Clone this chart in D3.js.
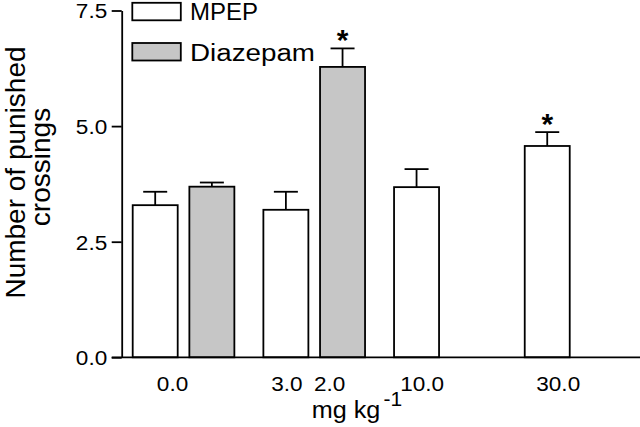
<!DOCTYPE html>
<html>
<head>
<meta charset="utf-8">
<script src="https://cdn.jsdelivr.net/npm/d3@7"></script>
<style>
  html, body { margin: 0; padding: 0; background: #fff; }
  svg { display: block; }
  text { font-family: "Liberation Sans", Arial, Helvetica, sans-serif; fill: #000; }
</style>
</head>
<body>
<svg id="chart" width="640" height="427"></svg>
<script>
// ---- data ----
const groups = ["g1", "g2", "g3", "g4"];
const series = ["MPEP", "Diazepam"];
const barGroup = ["g1", "g1", "g2", "g2", "g3", "g4"];
const barSeries = ["MPEP", "Diazepam", "MPEP", "Diazepam", "MPEP", "MPEP"];
const barMean = [3.29, 3.69, 3.19, 6.28, 3.68, 4.57];
const barSem = [0.29, 0.09, 0.39, 0.40, 0.39, 0.30];
const barSig = [false, false, false, true, false, true];
const xTickLabels = ["0.0", "3.0", "2.0", "10.0", "30.0"];
const yTicks = [0, 2.5, 5.0, 7.5];
const legendLabels = ["MPEP", "Diazepam"];

// ---- layout ----
const svg = d3.select("#chart");
const SX = 1.1; // horizontal glyph stretch seen in reference
const colors = { MPEP: "#ffffff", Diazepam: "#c6c6c6" };

const y = d3.scaleLinear().domain([0, 7.5]).range([357.3, 10.5]);
const x0 = d3.scaleBand().domain(groups).range([132.7, 626.4]).paddingInner(0.222).paddingOuter(0);
const x1 = d3.scaleBand().domain(series).range([0, x0.bandwidth()]).paddingInner(0.206).paddingOuter(0);

const bars = barMean.map((v, i) => ({ g: barGroup[i], s: barSeries[i], v, e: barSem[i], sig: barSig[i] }));
const bx = d => x0(d.g) + x1(d.s);
const bc = d => bx(d) + x1.bandwidth() / 2;

// bars
svg.append("g").selectAll("rect").data(bars).join("rect")
  .attr("x", bx)
  .attr("y", d => y(d.v))
  .attr("width", x1.bandwidth())
  .attr("height", d => y(0) - y(d.v))
  .attr("fill", d => colors[d.s])
  .attr("stroke", "#000").attr("stroke-width", 1.8);

// error bars
const eb = svg.append("g").attr("stroke", "#000").attr("stroke-width", 1.8);
eb.selectAll("line.v").data(bars).join("line").attr("class", "v")
  .attr("x1", bc).attr("x2", bc)
  .attr("y1", d => y(d.v)).attr("y2", d => y(d.v + d.e));
eb.selectAll("line.c").data(bars).join("line").attr("class", "c")
  .attr("x1", d => bc(d) - 12).attr("x2", d => bc(d) + 12)
  .attr("y1", d => y(d.v + d.e)).attr("y2", d => y(d.v + d.e));

// significance asterisks
svg.append("g").selectAll("text").data(bars.filter(d => d.sig)).join("text")
  .attr("transform", d => `translate(${bc(d)},${y(d.v + d.e) + 2})`)
  .attr("text-anchor", "middle")
  .attr("font-size", 30).attr("font-weight", "bold")
  .text("*");

// y axis
const yAxis = d3.axisLeft(y).tickValues(yTicks).tickSize(10).tickSizeOuter(0).tickFormat(d3.format(".1f"));
const ga = svg.append("g").attr("transform", "translate(121.7,0)").call(yAxis);
ga.select(".domain").attr("stroke", "#000").attr("stroke-width", 1.8);
ga.selectAll(".tick line").attr("stroke", "#000").attr("stroke-width", 1.8);
ga.selectAll(".tick text")
  .attr("x", 0).attr("dy", null)
  .attr("transform", "translate(-14.5,7.4) scale(" + SX + ",1)")
  .attr("font-size", 20.5)
  .attr("font-family", "Liberation Sans, Arial, sans-serif")
  .attr("fill", "#000");

// x axis baseline
svg.append("line")
  .attr("x1", 111.7).attr("x2", 640)
  .attr("y1", y(0)).attr("y2", y(0))
  .attr("stroke", "#000").attr("stroke-width", 1.8);

// x tick labels
const tickAnchor = [
  x0("g1") + x0.bandwidth() / 2 - 11,
  x0("g2") + x1("MPEP") + x1.bandwidth() / 2 + 1,
  x0("g2") + x1("Diazepam") + x1.bandwidth() / 2 - 13,
  x0("g3") + x1("MPEP") + x1.bandwidth() / 2 + 5.5,
  x0("g4") + x1("MPEP") + x1.bandwidth() / 2 + 11
];
svg.append("g").selectAll("text").data(xTickLabels).join("text")
  .attr("transform", (d, i) => `translate(${tickAnchor[i]},391) scale(${SX},1)`)
  .attr("text-anchor", "middle")
  .attr("font-size", 20.5)
  .text(d => d);

// x axis title
const xt = svg.append("text")
  .attr("transform", `translate(311.7,417.5) scale(1.05,1)`)
  .attr("font-size", 24);
xt.append("tspan").text("mg kg");
xt.append("tspan").attr("dx", 3).attr("dy", -12).attr("font-size", 20).text("-1");

// y axis title
const yt = svg.append("g");
yt.append("text")
  .attr("transform", "translate(25,172.5) rotate(-90)")
  .attr("text-anchor", "middle").attr("font-size", 28)
  .text("Number of punished");
yt.append("text")
  .attr("transform", "translate(50,167) rotate(-90)")
  .attr("text-anchor", "middle").attr("font-size", 28)
  .text("crossings");

// legend
const lg = svg.append("g");
const legY = [2.8, 43];
const legBase = [20, 61];
const legLen = [68, 125];
legendLabels.forEach((s, i) => {
  lg.append("rect")
    .attr("x", 132.3).attr("y", legY[i]).attr("width", 48.5).attr("height", 17.5)
    .attr("fill", colors[s]).attr("stroke", "#000").attr("stroke-width", 1.8);
  lg.append("text")
    .attr("x", 190).attr("y", legBase[i])
    .attr("font-size", 23)
    .attr("textLength", legLen[i]).attr("lengthAdjust", "spacingAndGlyphs")
    .text(s);
});
</script>
</body>
</html>
